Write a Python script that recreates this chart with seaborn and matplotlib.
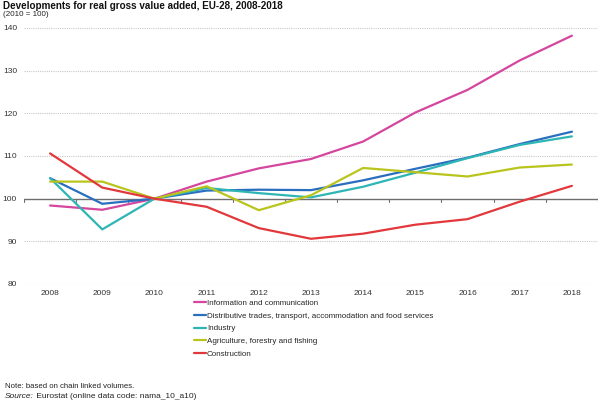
import matplotlib
matplotlib.use("Agg")
import matplotlib.pyplot as plt
import seaborn as sns
import pandas as pd

years = [2008, 2009, 2010, 2011, 2012, 2013, 2014, 2015, 2016, 2017, 2018]
info_comm = [98.4, 97.4, 100.0, 104.0, 107.1, 109.3, 113.4, 120.2, 125.5, 132.4, 138.2]
distributive = [104.8, 98.8, 100.0, 101.9, 102.1, 102.0, 104.3, 107.0, 109.6, 112.8, 115.7]
industry = [104.8, 92.8, 100.0, 102.5, 101.3, 100.3, 102.8, 106.1, 109.5, 112.6, 114.6]
agriculture = [104.0, 104.0, 100.0, 102.9, 97.3, 100.8, 107.2, 106.2, 105.2, 107.3, 108.0]
construction = [110.6, 102.6, 100.0, 98.1, 93.1, 90.6, 91.8, 93.9, 95.2, 99.3, 103.0]

series_names = [
    "Information and communication",
    "Distributive trades, transport, accommodation and food services",
    "Industry",
    "Agriculture, forestry and fishing",
    "Construction",
]
series_values = [info_comm, distributive, industry, agriculture, construction]
colors = ["#D5469E", "#2A6EBF", "#2EB5B5", "#B9C41D", "#E2383C"]

title = "Developments for real gross value added, EU-28, 2008-2018"
subtitle = "(2010 = 100)"
note = "Note: based on chain linked volumes."
source_label = "Source:"
source_text = " Eurostat (online data code: nama_10_a10)"
y_ticks = [80, 90, 100, 110, 120, 130, 140]

rows = []
for name, vals in zip(series_names, series_values):
    for y, v in zip(years, vals):
        rows.append({"year": y, "value": v, "series": name})
df = pd.DataFrame(rows)

sns.set_theme(style="white")
plt.rcParams["font.family"] = ["Liberation Sans", "DejaVu Sans"]

fig = plt.figure(figsize=(6.0, 4.01), dpi=100)
ax = fig.add_axes([24 / 600, 1 - 284 / 401, (598 - 24) / 600, (284 - 28) / 401])

sns.lineplot(data=df, x="year", y="value", hue="series", hue_order=series_names,
             palette=colors, linewidth=1.6, ax=ax, legend=False)

ax.set_xlim(2007.5, 2018.5)
ax.set_ylim(80, 140)
ax.set_xlabel("")
ax.set_ylabel("")
for s in ax.spines.values():
    s.set_visible(False)

for yt in y_ticks:
    if yt != 100:
        ax.axhline(yt, color="#C8C8C8", linewidth=0.8, linestyle=(0, (1, 1)), zorder=0)
ax.axhline(100, color="#6E6E6E", linewidth=1.0, zorder=1)
for xb in [y + 0.5 for y in years[:-1]] + [2007.5, 2018.5]:
    ax.plot([xb, xb], [100, 99.3], color="#6E6E6E", linewidth=0.8, zorder=1)

ax.set_yticks(y_ticks)
ax.set_yticklabels([str(t) for t in y_ticks], fontsize=6, color="#333333")
ax.set_xticks(years)
ax.set_xticklabels([str(y) for y in years], fontsize=6, color="#333333")
ax.tick_params(axis="x", length=0, pad=4)
ax.tick_params(axis="y", length=0, pad=5)

fig.text(3 / 600, 1 - 6 / 401, title, fontsize=7.1, fontweight="bold", va="center", ha="left", color="#111111")
fig.text(3 / 600, 1 - 15 / 401, subtitle, fontsize=5.8, va="center", ha="left", color="#222222")

handles = [plt.Line2D([0], [0], color=c, linewidth=1.6) for c in colors]
fig.legend(handles, series_names, loc="upper left", bbox_to_anchor=(194 / 600, 1 - 299 / 401),
           frameon=False, fontsize=5.8, handlelength=1.5, handletextpad=0.1,
           labelspacing=0.65, borderaxespad=0, borderpad=0)

fig.text(5 / 600, 1 - 386 / 401, note, fontsize=5.6, va="center", ha="left", color="#222222")
t = fig.text(5 / 600, 1 - 396 / 401, source_label, fontsize=6.0, style="italic", va="center", ha="left", color="#222222")
fig.canvas.draw()
bb = t.get_window_extent()
fig.text(bb.x1 / 600, 1 - 396 / 401, source_text, fontsize=6.0, va="center", ha="left", color="#222222")

fig.savefig("out.png", dpi=100)
